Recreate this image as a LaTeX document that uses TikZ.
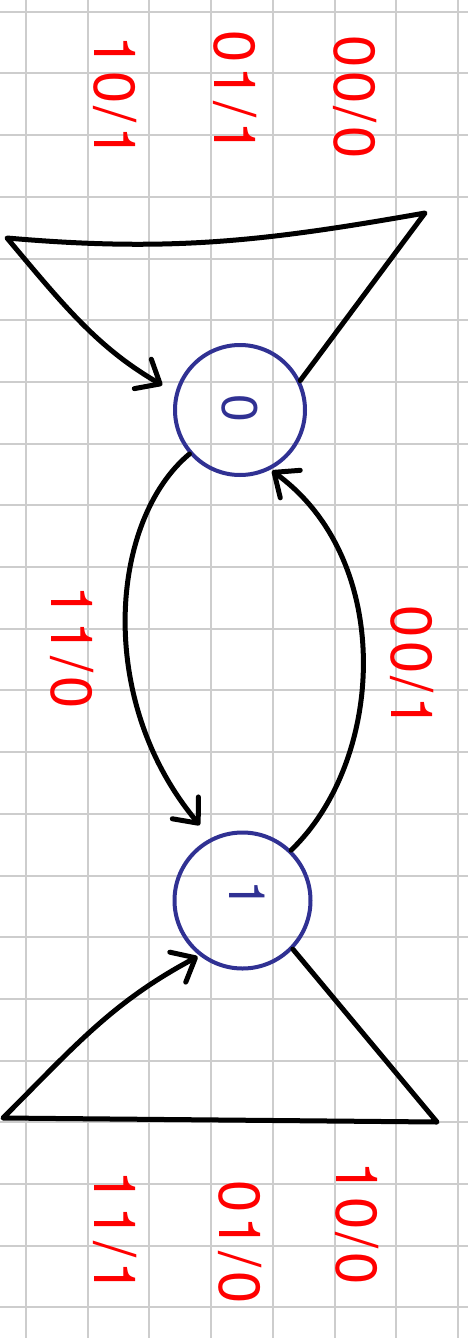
\documentclass[tikz,border=0pt]{standalone}
\usepackage{fontspec}
\setmainfont{TeX Gyre Heros}
\newfontfamily\lblfont[LetterSpace=6]{TeX Gyre Heros}
\usetikzlibrary{arrows.meta}
\definecolor{penred}{RGB}{255,0,0}
\definecolor{penblue}{RGB}{48,49,147}
\definecolor{gridgray}{RGB}{205,205,205}
\begin{document}
\begin{tikzpicture}[x=1pt,y=-1pt,
  edge/.style={draw=black, line width=5pt, line cap=round, line join=round},
  tip/.style={-{Straight Barb[length=20pt,width=34pt,round]}},
  state/.style={circle, draw=penblue, line width=4pt, inner sep=0pt},
  stlabel/.style={text=penblue, rotate=-90, inner sep=0pt, font=\fontsize{50}{50}\selectfont},
  lbl/.style={text=penred, rotate=-90, inner sep=0pt, font=\lblfont\fontsize{58}{58}\selectfont}]
\useasboundingbox (0,0) rectangle (468,1338);
\fill[white] (0,0) rectangle (468,1338);
% grid
\foreach \k in {0,...,7} \draw[gridgray, line width=2pt] ({26+61.7*\k},0) -- ({26+61.7*\k},1338);
\foreach \k in {0,...,21} \draw[gridgray, line width=2pt] (0,{11.7+61.7*\k}) -- (468,{11.7+61.7*\k});
% states
\node[state, minimum size=130pt] (s0) at (240,410) {};
\node[state, minimum size=136pt] (s1) at (242.5,900.5) {};
\node[stlabel] (d0) at (240,408) {0};
\node[stlabel] (d1) at (247,894) {1};
% corners of the self loops
\coordinate (c0r) at (425,213);
\coordinate (c0l) at (7,238);
\coordinate (c1r) at (437,1122);
\coordinate (c1l) at (3,1118);
% self loop on 0
\draw[edge, tip, shorten >=15pt] (s0.26) -- (c0r) to[out=190,in=-5] (c0l) to[out=-50,in=150] (s0.165);
% self loop on 1
\draw[edge, tip, shorten >=2pt] (s1.-44) -- (c1r) -- (c1l) to[out=45,in=-152] (s1.-128);
% 0 -> 1
\draw[edge, tip, shorten >=17pt] (s0.-139) .. controls (110,520) and (95,700) .. (s1.117);
% 1 -> 0
\draw[edge, tip, shorten >=2pt] (s1.46) .. controls (385,760) and (395,560) .. (s0.-63);
% labels
\node[lbl] (l1) at (115,97) {10/1};
\node[lbl] (l2) at (235,92) {01/1};
\node[lbl] (l3) at (355,97) {00/0};
\node[lbl] (l4) at (72,647) {11/0};
\node[lbl] (l5) at (412,667) {00/1};
\node[lbl] (l6) at (115,1232) {11/1};
\node[lbl] (l7) at (240,1242) {01/0};
\node[lbl] (l8) at (357,1223) {10/0};
\end{tikzpicture}
\end{document}
